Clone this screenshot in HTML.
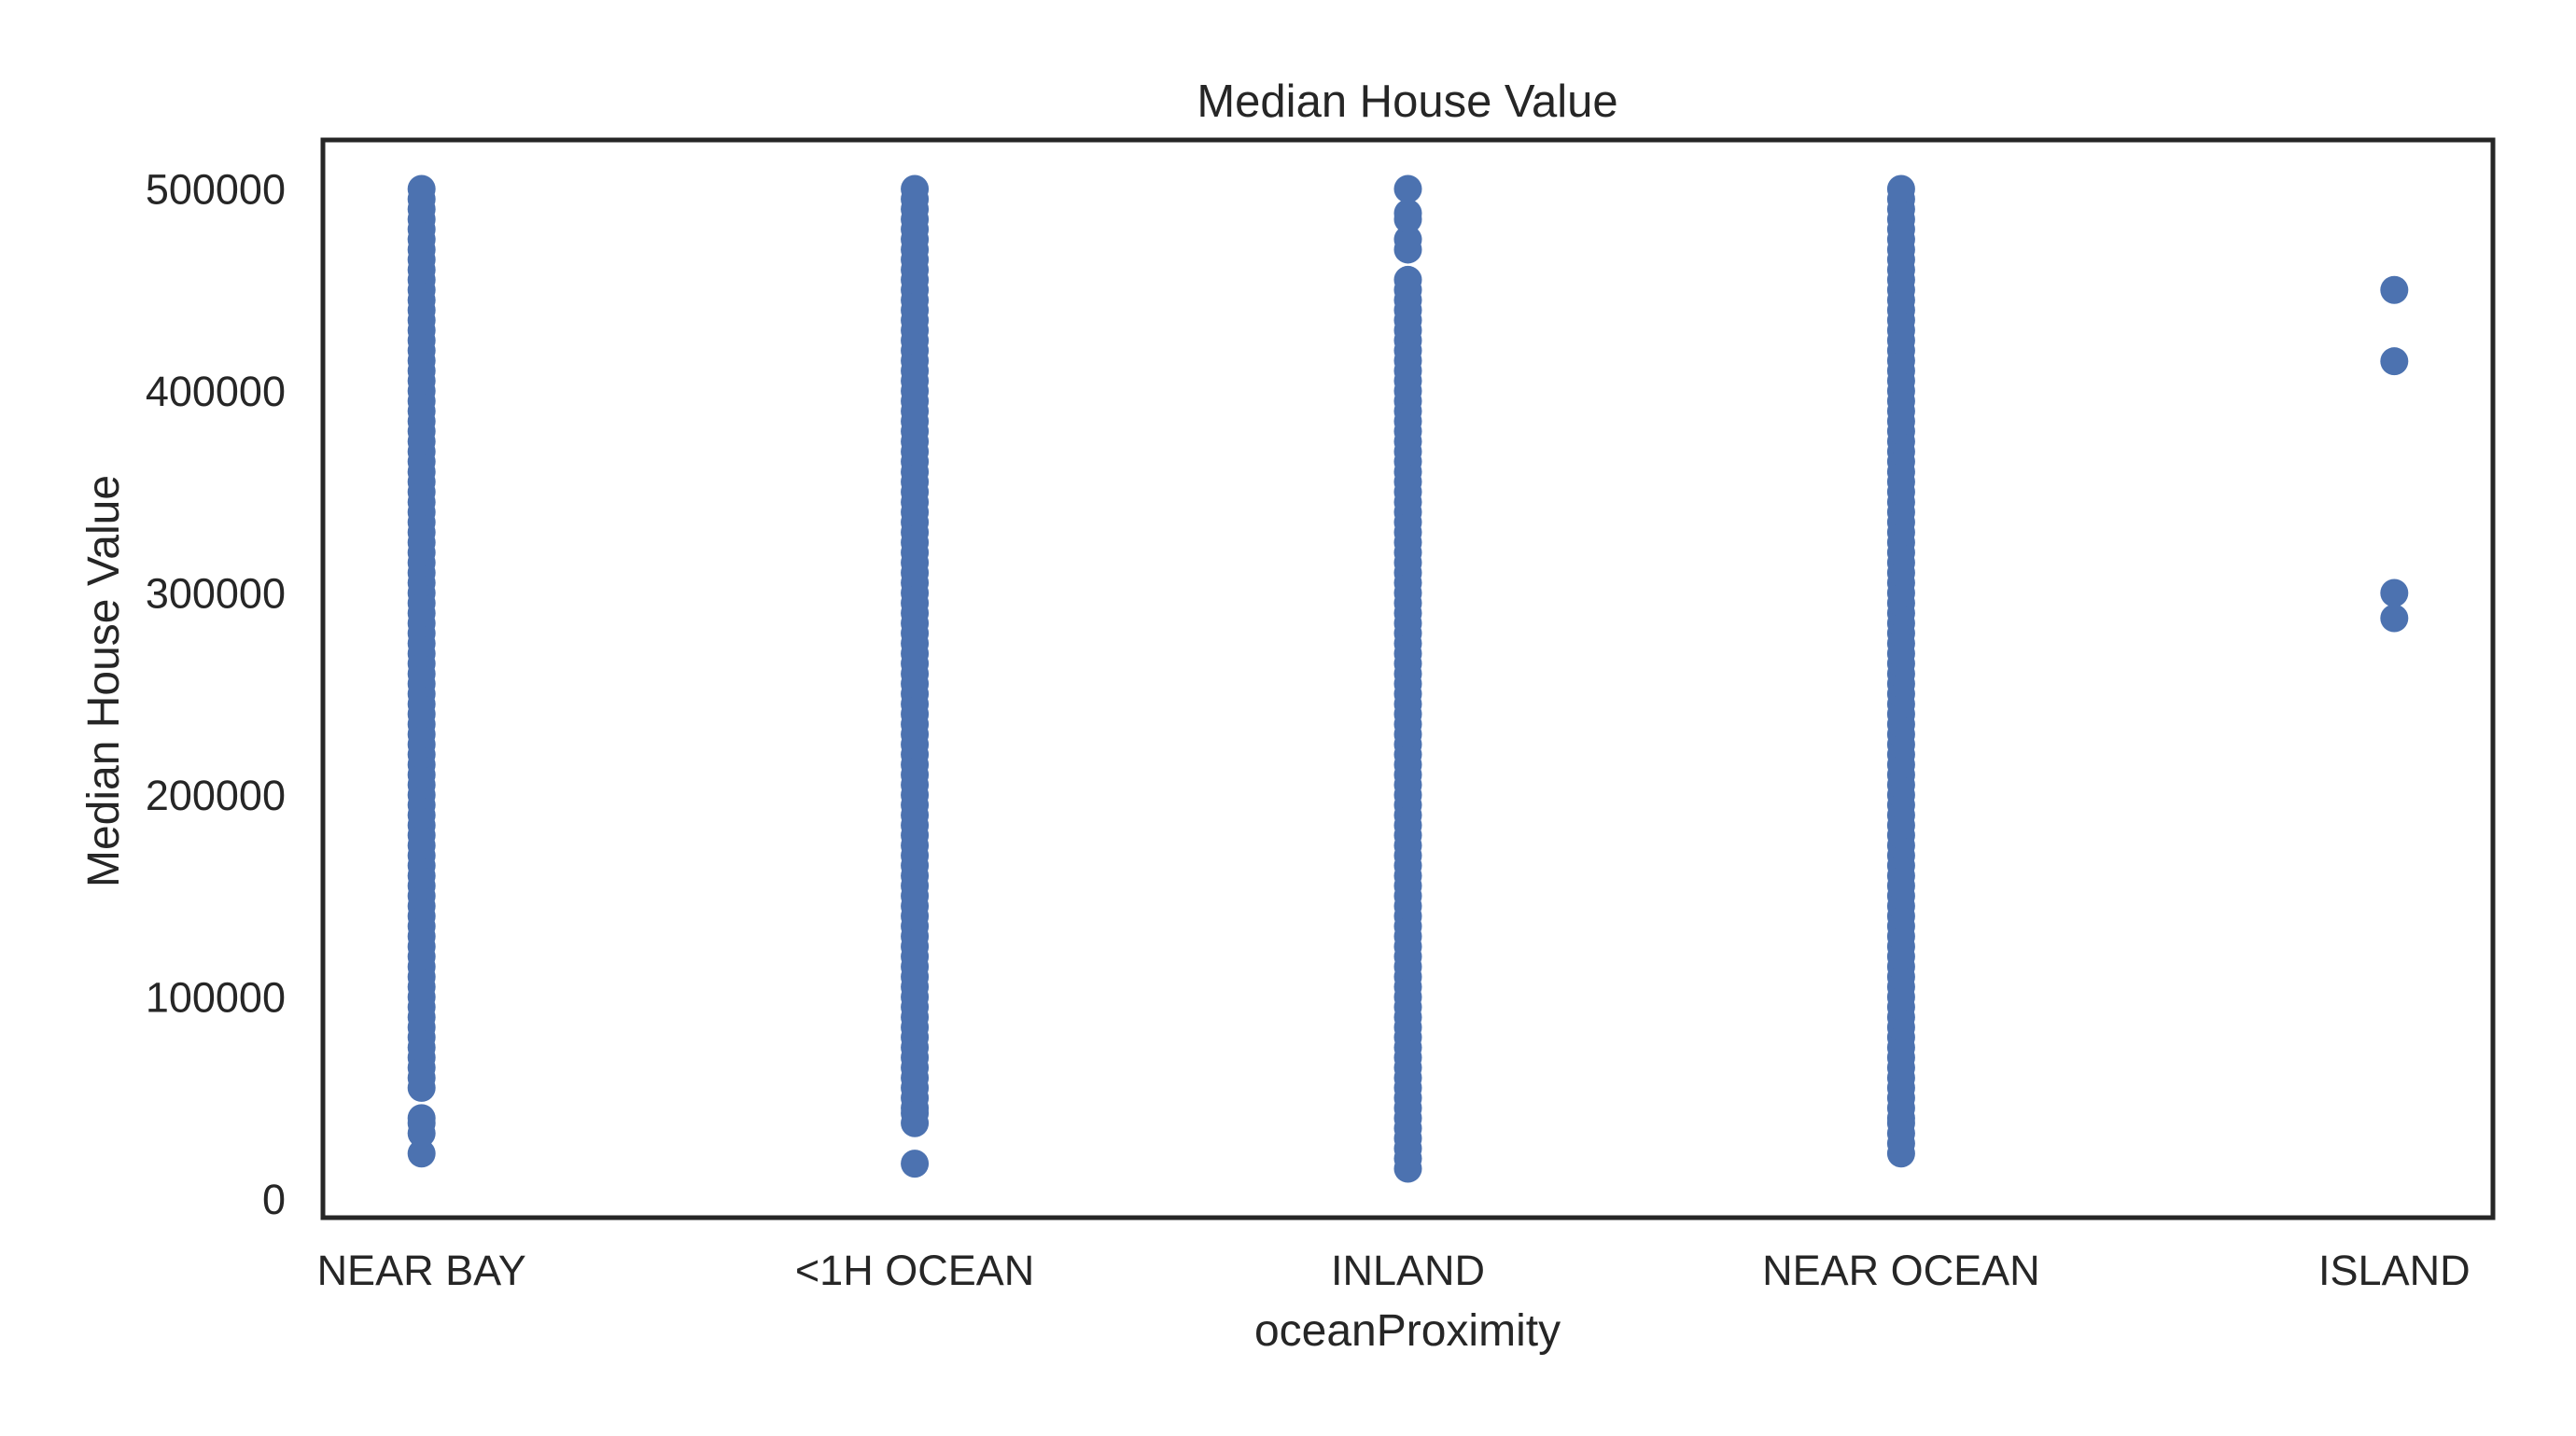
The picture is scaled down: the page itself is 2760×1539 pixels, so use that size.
<!DOCTYPE html>
<html><head><meta charset="utf-8"><style>
html,body{margin:0;padding:0;background:#fff;}
svg{display:block;font-family:"Liberation Sans",Arial,sans-serif;}
</style></head><body>
<svg id="chart" width="2760" height="1539" viewBox="0 0 2760 1539" xmlns="http://www.w3.org/2000/svg">
<rect width="2760" height="1539" fill="#fff"/>
<text x="1508" y="125" font-size="49" fill="#262626" text-anchor="middle">Median House Value</text>
<g id="points"></g>
<g id="yticks"></g>
<g id="xticks"></g>
<rect x="346" y="150" width="2325" height="1155" fill="none" stroke="#262626" stroke-width="5"/>
<text x="1508" y="1442" font-size="48" fill="#262626" text-anchor="middle">oceanProximity</text>
<text x="0" y="0" font-size="48" fill="#262626" text-anchor="middle" transform="translate(127,730) rotate(-90)">Median House Value</text>
</svg>
<script>
const categories = ["NEAR BAY", "<1H OCEAN", "INLAND", "NEAR OCEAN", "ISLAND"];
const nearBayValues = [22500,32500,37500,40000,55000,60000,65000,70000,75000,80000,85000,90000,95000,100000,105000,110000,115000,120000,125000,130000,135000,140000,145000,150000,155000,160000,165000,170000,175000,180000,185000,190000,195000,200000,205000,210000,215000,220000,225000,230000,235000,240000,245000,250000,255000,260000,265000,270000,275000,280000,285000,290000,295000,300000,305000,310000,315000,320000,325000,330000,335000,340000,345000,350000,355000,360000,365000,370000,375000,380000,385000,390000,395000,400000,405000,410000,415000,420000,425000,430000,435000,440000,445000,450000,455000,460000,465000,470000,475000,480000,485000,490000,495000,500001];
const oneHourOceanValues = [17500,37500,42500,45000,50000,55000,60000,65000,70000,75000,80000,85000,90000,95000,100000,105000,110000,115000,120000,125000,130000,135000,140000,145000,150000,155000,160000,165000,170000,175000,180000,185000,190000,195000,200000,205000,210000,215000,220000,225000,230000,235000,240000,245000,250000,255000,260000,265000,270000,275000,280000,285000,290000,295000,300000,305000,310000,315000,320000,325000,330000,335000,340000,345000,350000,355000,360000,365000,370000,375000,380000,385000,390000,395000,400000,405000,410000,415000,420000,425000,430000,435000,440000,445000,450000,455000,460000,465000,470000,475000,480000,485000,490000,495000,500001];
const inlandValues = [14999,20000,25000,30000,35000,40000,45000,50000,55000,60000,65000,70000,75000,80000,85000,90000,95000,100000,105000,110000,115000,120000,125000,130000,135000,140000,145000,150000,155000,160000,165000,170000,175000,180000,185000,190000,195000,200000,205000,210000,215000,220000,225000,230000,235000,240000,245000,250000,255000,260000,265000,270000,275000,280000,285000,290000,295000,300000,305000,310000,315000,320000,325000,330000,335000,340000,345000,350000,355000,360000,365000,370000,375000,380000,385000,390000,395000,400000,405000,410000,415000,420000,425000,430000,435000,440000,445000,450000,455000,470000,475000,485000,488000,500001];
const nearOceanValues = [22500,27500,32500,37500,40000,45000,50000,55000,60000,65000,70000,75000,80000,85000,90000,95000,100000,105000,110000,115000,120000,125000,130000,135000,140000,145000,150000,155000,160000,165000,170000,175000,180000,185000,190000,195000,200000,205000,210000,215000,220000,225000,230000,235000,240000,245000,250000,255000,260000,265000,270000,275000,280000,285000,290000,295000,300000,305000,310000,315000,320000,325000,330000,335000,340000,345000,350000,355000,360000,365000,370000,375000,380000,385000,390000,395000,400000,405000,410000,415000,420000,425000,430000,435000,440000,445000,450000,455000,460000,465000,470000,475000,480000,485000,490000,495000,500001];
const islandValues = [450000,414700,300000,287500];
const seriesValues = [nearBayValues, oneHourOceanValues, inlandValues, nearOceanValues, islandValues];
const yTickValues = [0,100000,200000,300000,400000,500000];
const yTickLabels = ["0","100000","200000","300000","400000","500000"];

const NS = "http://www.w3.org/2000/svg";
const plot = {left:346, right:2671, top:150, bottom:1305};
const xMin = -0.2, xMax = 4.2, yMin = -9251, yMax = 524251;
function xScale(i){ return plot.left + (i - xMin) / (xMax - xMin) * (plot.right - plot.left); }
function yScale(v){ return plot.bottom - (v - yMin) / (yMax - yMin) * (plot.bottom - plot.top); }

const pg = document.getElementById('points');
seriesValues.forEach((vals, ci) => {
  vals.forEach(v => {
    const c = document.createElementNS(NS, 'circle');
    c.setAttribute('cx', xScale(ci));
    c.setAttribute('cy', yScale(v));
    c.setAttribute('r', 15);
    c.setAttribute('fill', '#4c72b0');
    
    
    pg.appendChild(c);
  });
});

const yg = document.getElementById('yticks');
yTickValues.forEach((v, i) => {
  const t = document.createElementNS(NS, 'text');
  t.setAttribute('x', 306);
  t.setAttribute('y', yScale(v) + 16);
  t.setAttribute('font-size', 45);
  t.setAttribute('fill', '#262626');
  t.setAttribute('text-anchor', 'end');
  
  
  t.textContent = yTickLabels[i];
  yg.appendChild(t);
});

const xg = document.getElementById('xticks');
categories.forEach((c, i) => {
  const t = document.createElementNS(NS, 'text');
  t.setAttribute('x', xScale(i));
  t.setAttribute('y', 1377);
  t.setAttribute('font-size', 45);
  t.setAttribute('fill', '#262626');
  t.setAttribute('text-anchor', 'middle');
  
  
  t.textContent = c;
  xg.appendChild(t);
});
</script>
</body></html>
